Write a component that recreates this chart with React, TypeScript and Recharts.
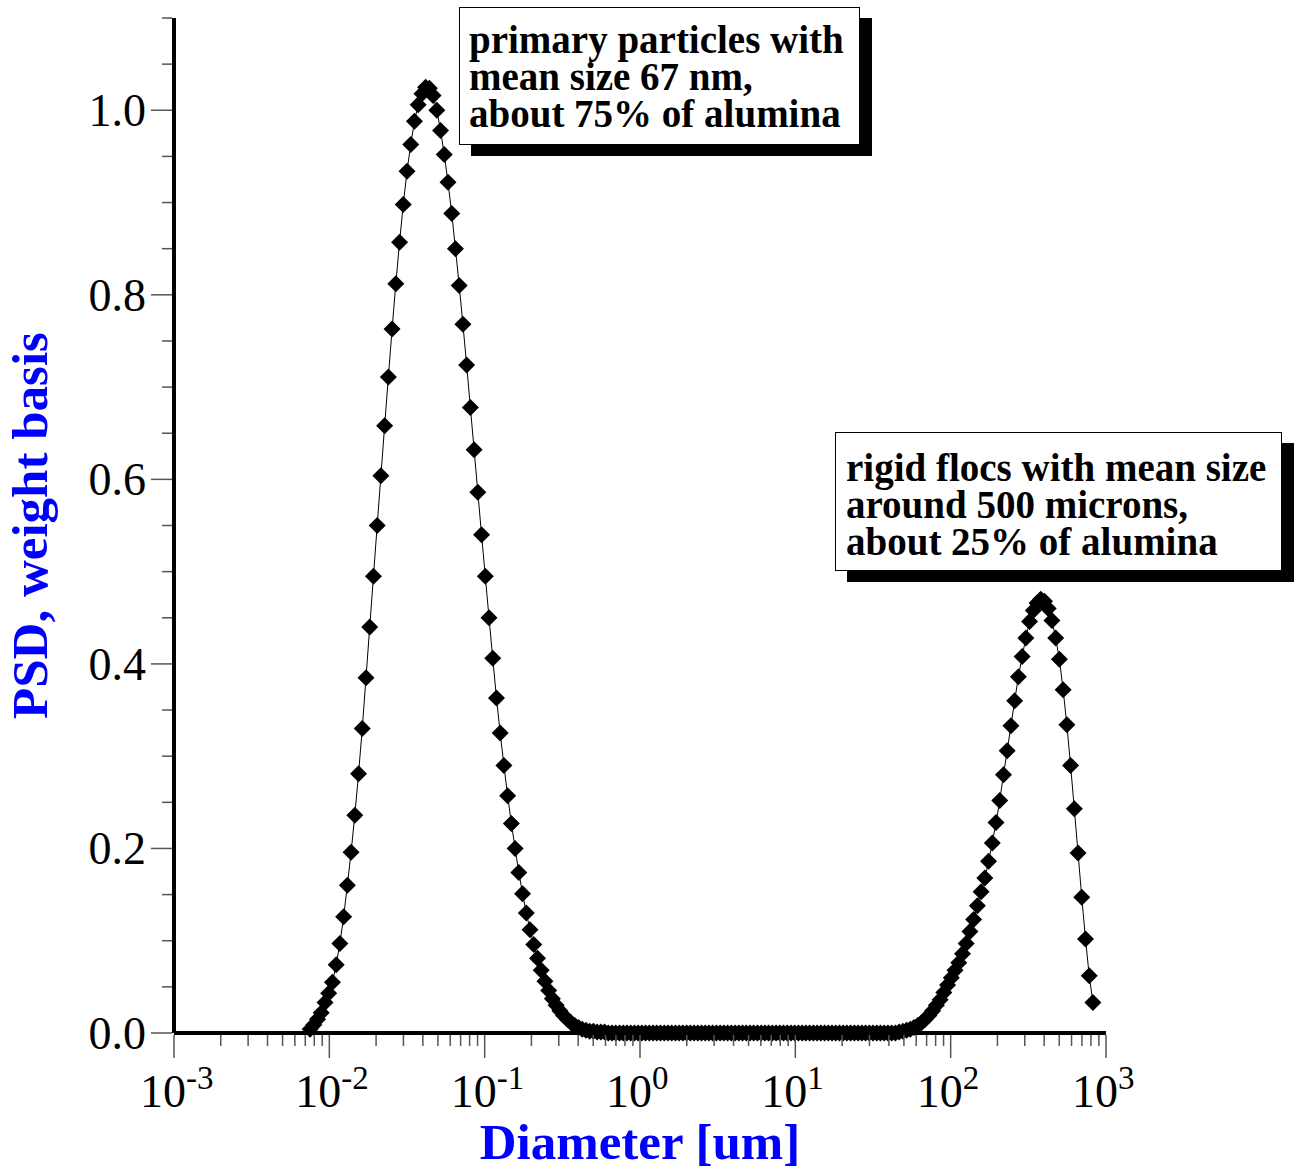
import React from 'react';
import { LineChart, Line, XAxis, YAxis } from 'recharts';

// log10 of particle diameter [um], one entry per plotted diamond
const logDiameter = [
  -2.124, -2.100, -2.076, -2.052, -2.028, -2.004, -1.980, -1.956, -1.932, -1.908,
  -1.884, -1.860, -1.836, -1.812, -1.788, -1.764, -1.740, -1.716, -1.692, -1.668,
  -1.644, -1.620, -1.596, -1.572, -1.548, -1.524, -1.500, -1.476, -1.452, -1.428,
  -1.404, -1.380, -1.356, -1.332, -1.308, -1.284, -1.260, -1.236, -1.212, -1.188,
  -1.164, -1.140, -1.116, -1.092, -1.068, -1.044, -1.020, -0.996, -0.972, -0.948,
  -0.924, -0.900, -0.876, -0.852, -0.828, -0.804, -0.780, -0.756, -0.732, -0.708,
  -0.684, -0.660, -0.636, -0.612, -0.588, -0.564, -0.540, -0.516, -0.492, -0.468,
  -0.444, -0.420, -0.396, -0.372, -0.348, -0.324, -0.300, -0.276, -0.252, -0.228,
  -0.204, -0.180, -0.156, -0.132, -0.108, -0.084, -0.060, -0.036, -0.012, 0.012,
  0.036, 0.060, 0.084, 0.108, 0.132, 0.156, 0.180, 0.204, 0.228, 0.252,
  0.276, 0.300, 0.324, 0.348, 0.372, 0.396, 0.420, 0.444, 0.468, 0.492,
  0.516, 0.540, 0.564, 0.588, 0.612, 0.636, 0.660, 0.684, 0.708, 0.732,
  0.756, 0.780, 0.804, 0.828, 0.852, 0.876, 0.900, 0.924, 0.948, 0.972,
  0.996, 1.020, 1.044, 1.068, 1.092, 1.116, 1.140, 1.164, 1.188, 1.212,
  1.236, 1.260, 1.284, 1.308, 1.332, 1.356, 1.380, 1.404, 1.428, 1.452,
  1.476, 1.500, 1.524, 1.548, 1.572, 1.596, 1.620, 1.644, 1.668, 1.692,
  1.716, 1.740, 1.764, 1.788, 1.812, 1.836, 1.860, 1.884, 1.908, 1.932,
  1.956, 1.980, 2.004, 2.028, 2.052, 2.076, 2.100, 2.124, 2.148, 2.172,
  2.196, 2.220, 2.244, 2.268, 2.292, 2.316, 2.340, 2.364, 2.388, 2.412,
  2.436, 2.460, 2.484, 2.508, 2.532, 2.556, 2.580, 2.604, 2.628, 2.652,
  2.676, 2.700, 2.724, 2.748, 2.772, 2.796, 2.820, 2.844, 2.868, 2.892,
  2.916,
];

// PSD values, primary particle peak
const primaryPeak = [
  0.004, 0.009, 0.015, 0.022, 0.033, 0.043, 0.055, 0.074, 0.097, 0.126,
  0.160, 0.196, 0.236, 0.281, 0.330, 0.385, 0.440, 0.495, 0.550, 0.604,
  0.658, 0.711, 0.763, 0.812, 0.857, 0.898, 0.934, 0.963, 0.988, 1.006,
  1.018, 1.025, 1.024, 1.016, 1.000, 0.978, 0.952, 0.922, 0.888, 0.850,
  0.810, 0.768, 0.724, 0.678, 0.632, 0.586, 0.540, 0.495, 0.450, 0.406,
  0.363, 0.325, 0.290, 0.257, 0.227, 0.200, 0.174, 0.151, 0.130, 0.112,
  0.096, 0.081, 0.068, 0.056, 0.046, 0.037, 0.030, 0.024, 0.019, 0.015,
  0.011, 0.008, 0.006, 0.004, 0.003, 0.002, 0.002, 0.001, 0.001, 0.001,
];

// flat part between the two peaks
const gapValues = [
  0, 0, 0, 0, 0, 0, 0, 0, 0, 0,
  0, 0, 0, 0, 0, 0, 0, 0, 0, 0,
  0, 0, 0, 0, 0, 0, 0, 0, 0, 0,
  0, 0, 0, 0, 0, 0, 0, 0, 0, 0,
  0, 0, 0, 0, 0, 0, 0, 0, 0, 0,
  0, 0, 0, 0, 0, 0, 0, 0, 0, 0,
  0, 0, 0, 0, 0, 0, 0, 0, 0, 0,
  0, 0, 0, 0, 0, 0, 0, 0,
];

// rigid floc peak
const flocPeak = [
  0.001, 0.002, 0.003, 0.004, 0.006, 0.008, 0.011, 0.015, 0.019, 0.024,
  0.030, 0.036, 0.044, 0.052, 0.060, 0.068, 0.076, 0.086, 0.097, 0.110,
  0.123, 0.138, 0.153, 0.168, 0.186, 0.206, 0.228, 0.252, 0.280, 0.306,
  0.333, 0.360, 0.386, 0.408, 0.428, 0.446, 0.458, 0.466, 0.470, 0.468,
  0.460, 0.447, 0.428, 0.405, 0.372, 0.334, 0.290, 0.243, 0.195, 0.147,
  0.102, 0.062, 0.033,
];

const psdValues = [...primaryPeak, ...gapValues, ...flocPeak];

const decades = [-3, -2, -1, 0, 1, 2, 3];
const minorMantissas = [2, 3, 4, 5, 6, 7, 8, 9];
const yTicks = [
  0, 0.05, 0.1, 0.15, 0.2, 0.25, 0.3, 0.35, 0.4, 0.45, 0.5, 0.55,
  0.6, 0.65, 0.7, 0.75, 0.8, 0.85, 0.9, 0.95, 1.0, 1.05, 1.1,
];

const primaryNote = ['primary particles with', 'mean size 67 nm,', 'about 75% of alumina'];
const flocNote = ['rigid flocs with mean size', 'around 500 microns,', 'about 25% of alumina'];

const data = logDiameter.map((d, i) => ({ logD: d, psd: psdValues[i] }));

const xTicks = [
  ...decades,
  ...decades.slice(0, -1).flatMap((d) => minorMantissas.map((m) => d + Math.log10(m))),
].sort((a, b) => a - b);

const serif = "'Liberation Serif', 'Times New Roman', serif";

const XTick = (props: any) => {
  const { x, y, payload } = props;
  const v = payload.value;
  const major = Math.abs(v - Math.round(v)) < 1e-9;
  return (
    <g>
      <line x1={x} x2={x} y1={y + 2} y2={y + (major ? 25 : 13)} stroke="#555" strokeWidth={1.5} />
      {major && (
        <text x={x - 34} y={y + 74} fontFamily={serif} fontSize={46} fill="#000">
          10
          <tspan dy={-18} fontSize={33}>{String(Math.round(v))}</tspan>
        </text>
      )}
    </g>
  );
};

const YTick = (props: any) => {
  const { x, y, payload } = props;
  const v = payload.value;
  const major = Math.abs(v * 5 - Math.round(v * 5)) < 1e-6;
  return (
    <g>
      <line x1={x - 2} x2={x - (major ? 23 : 12)} y1={y} y2={y} stroke="#555" strokeWidth={1.5} />
      {major && (
        <text x={x - 28} y={y + 16} textAnchor="end" fontFamily={serif} fontSize={46} fill="#000">
          {v.toFixed(1)}
        </text>
      )}
    </g>
  );
};

const Diamond = (props: any) => {
  const { cx, cy, index } = props;
  if (cx == null || cy == null) return <g key={`d${index}`} />;
  const r = 8.5;
  return (
    <path
      key={`d${index}`}
      d={`M${cx},${cy - r} L${cx + r},${cy} L${cx},${cy + r} L${cx - r},${cy} Z`}
      fill="#000"
    />
  );
};

const XTitle = (props: any) => {
  const vb = props.viewBox || { x: 174, y: 1033, width: 932, height: 138 };
  return (
    <text
      x={vb.x + vb.width / 2}
      y={vb.y + 126}
      textAnchor="middle"
      fontFamily={serif}
      fontWeight="bold"
      fontSize={51}
      fill="#0000ff"
    >
      Diameter [um]
    </text>
  );
};

const YTitle = (props: any) => {
  const vb = props.viewBox || { x: 0, y: 18, width: 174, height: 1015 };
  const cy = vb.y + vb.height / 2;
  return (
    <text
      x={47}
      y={cy}
      transform={`rotate(-90 47 ${cy})`}
      textAnchor="middle"
      fontFamily={serif}
      fontWeight="bold"
      fontSize={51}
      fill="#0000ff"
    >
      PSD, weight basis
    </text>
  );
};

const noteStyle = (left: number, top: number, width: number, height: number, padTop: number, padLeft: number): React.CSSProperties => ({
  position: 'absolute',
  left,
  top,
  width,
  height,
  boxSizing: 'border-box',
  border: '1px solid #000',
  background: '#fff',
  boxShadow: '12px 11px 0 #000',
  padding: `${padTop}px 0 0 ${padLeft}px`,
  fontFamily: serif,
  fontWeight: 'bold',
  fontSize: 39,
  lineHeight: '37px',
  whiteSpace: 'pre',
  color: '#000',
});

export default function App() {
  return (
    <div style={{ position: 'absolute', left: 0, top: 0, width: 1299, height: 1171, background: '#fff' }}>
      <LineChart width={1299} height={1171} data={data} margin={{ top: 18, right: 193, bottom: 0, left: 0 }}>
        <XAxis
          dataKey="logD"
          type="number"
          domain={[-3, 3]}
          ticks={xTicks}
          interval={0}
          height={138}
          tickSize={0}
          tickMargin={0}
          tickLine={false}
          axisLine={{ stroke: '#000', strokeWidth: 4 }}
          tick={XTick}
          label={XTitle}
        />
        <YAxis
          type="number"
          domain={[0, 1.1]}
          ticks={yTicks}
          interval={0}
          width={174}
          tickSize={0}
          tickMargin={0}
          tickLine={false}
          axisLine={{ stroke: '#000', strokeWidth: 4 }}
          tick={YTick}
          label={YTitle}
        />
        <Line
          type="linear"
          dataKey="psd"
          stroke="#000"
          strokeWidth={1}
          dot={Diamond}
          activeDot={false}
          isAnimationActive={false}
        />
      </LineChart>
      <div style={noteStyle(459, 7, 401, 138, 13, 9)}>{primaryNote.join('\n')}</div>
      <div style={noteStyle(835, 432, 447, 139, 16, 10)}>{flocNote.join('\n')}</div>
    </div>
  );
}
